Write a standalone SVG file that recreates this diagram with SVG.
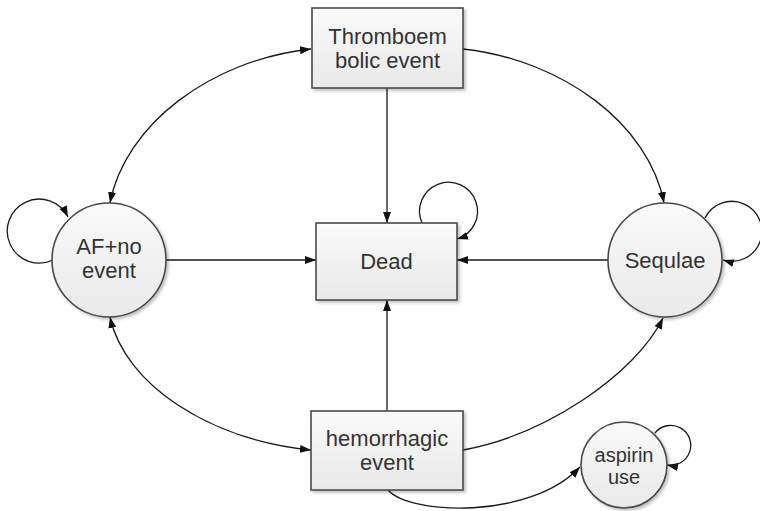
<svg xmlns="http://www.w3.org/2000/svg" width="760" height="511" viewBox="0 0 760 511">
<defs>
<linearGradient id="g" x1="0" y1="0" x2="0" y2="1">
<stop offset="0" stop-color="#fafafa"/>
<stop offset="1" stop-color="#e9e9e9"/>
</linearGradient>
<filter id="sh" x="-10%" y="-10%" width="130%" height="130%">
<feDropShadow dx="2" dy="2" stdDeviation="1.5" flood-color="#000" flood-opacity="0.25"/>
</filter>
<marker id="ah" markerUnits="userSpaceOnUse" markerWidth="12" markerHeight="10" refX="11" refY="4" orient="auto-start-reverse" viewBox="0 0 12 8">
<path d="M0,0 L11,4 L0,8 Z" fill="#111"/>
</marker>
<style>
.node{fill:url(#g);stroke:#4a4a4a;stroke-width:1.6;filter:url(#sh)}
.t{font-family:"Liberation Sans",Arial,sans-serif;font-size:22px;fill:#333;text-anchor:middle}
.ts{font-family:"Liberation Sans",Arial,sans-serif;font-size:20px;fill:#333;text-anchor:middle}
.c{fill:none;stroke:#1a1a1a;stroke-width:1.3}
.e{marker-end:url(#ah)}
.b{marker-start:url(#ah);marker-end:url(#ah)}
</style>
</defs>
<g id="connectors">
<path class="c b" d="M110,203 C125,125 210,60 311,49"/>
<path class="c e" d="M463,49 C564,60 649,125 664,203"/>
<path class="c e" d="M387,88 L387,223"/>
<path class="c e" d="M166,260 L316,260"/>
<path class="c e" d="M609,260 L457,260"/>
<path class="c e" d="M387,411 L387,300"/>
<path class="c b" d="M110,317 C125,385 210,440 311,450"/>
<path class="c e" d="M463,450 C545,435 635,375 663,318"/>
<path class="c e" d="M388,490 C410,515 530,520 580,467"/>
<path class="c e" d="M53,260 A32,32 0 1 1 68,217"/>
<path class="c e" d="M422,223 A29,29 0 1 1 457,239"/>
<path class="c e" d="M705,218 A30,30 0 1 1 723,260"/>
<path class="c e" d="M655,433 A20,20 0 1 1 667,465"/>
</g>
<g id="thrombo">
<rect class="node" x="312" y="8" width="151" height="80"/>
<text class="t" x="387.5" y="44">Thromboem</text>
<text class="t" x="387.5" y="68">bolic event</text>
</g>
<g id="af">
<circle class="node" cx="109" cy="260" r="57"/>
<text class="t" x="109" y="254">AF+no</text>
<text class="t" x="109" y="278">event</text>
</g>
<g id="dead">
<rect class="node" x="316" y="223" width="141" height="77"/>
<text class="t" x="386.5" y="269">Dead</text>
</g>
<g id="sequlae">
<circle class="node" cx="665" cy="260" r="57"/>
<text class="t" x="665" y="268">Sequlae</text>
</g>
<g id="hemorrhagic">
<rect class="node" x="311" y="411" width="152" height="79"/>
<text class="t" x="387" y="446">hemorrhagic</text>
<text class="t" x="387" y="470">event</text>
</g>
<g id="aspirin">
<circle class="node" cx="624" cy="465" r="43"/>
<text class="ts" x="624" y="462">aspirin</text>
<text class="ts" x="624" y="484">use</text>
</g>
</svg>
